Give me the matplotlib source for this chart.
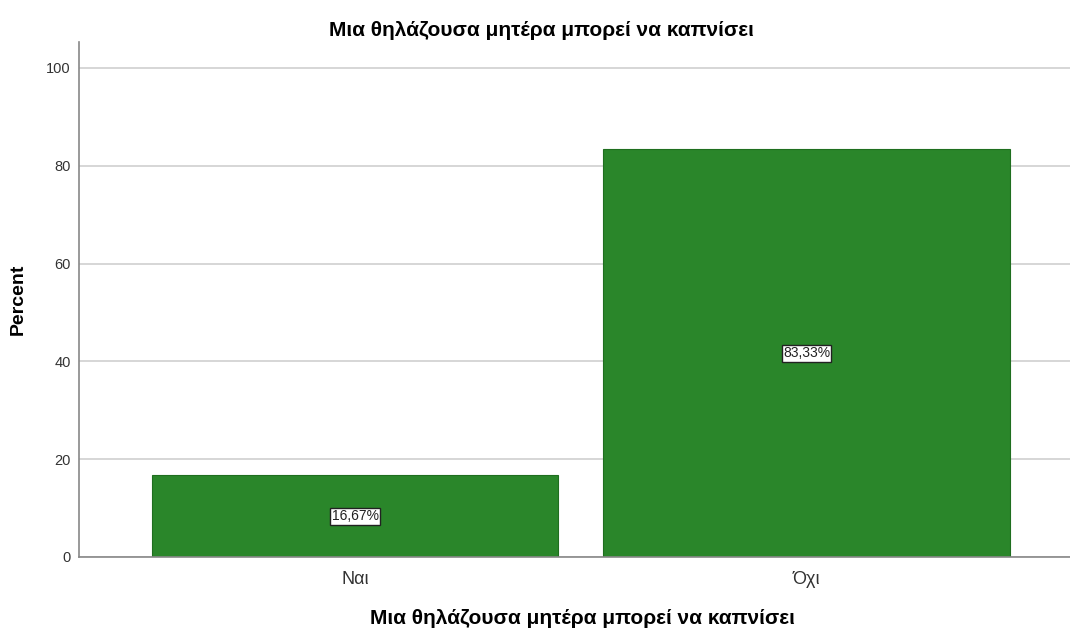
import matplotlib
matplotlib.use("Agg")
import matplotlib.pyplot as plt

plt.rcParams["font.family"] = ["Liberation Sans", "DejaVu Sans"]

categories = ["Ναι", "Όχι"]
percents = [16.67, 83.33]
title = "Μια θηλάζουσα μητέρα μπορεί να καπνίσει"

fig = plt.figure(figsize=(10.70, 6.31), dpi=100)
ax = fig.add_axes([79 / 1070, 1 - 557 / 631, (1070 - 79) / 1070, (557 - 42) / 631])

x = list(range(len(categories)))
ax.bar(x, percents, width=0.9, color="#2a862a", edgecolor="#1f6e1f", linewidth=0.8, zorder=2)

for xi, p in zip(x, percents):
    ax.text(
        xi, p / 2, f"{p:.2f}%".replace(".", ","),
        ha="center", va="center", fontsize=10, color="#222222", zorder=3,
        bbox=dict(boxstyle="square,pad=0.1", fc="white", ec="#222222", lw=1),
    )

ax.set_xlim(-0.612, 1.584)
ax.set_ylim(0, 105.3)
ax.set_yticks([0, 20, 40, 60, 80, 100])
ax.set_xticks(x)
ax.set_xticklabels(categories, fontsize=13, color="#333333")
ax.tick_params(axis="x", length=0, pad=10)
ax.tick_params(axis="y", length=0, labelsize=10.5, labelcolor="#333333", pad=6)
ax.yaxis.grid(True, color="#d0d0d0", linewidth=1.2, zorder=0)
ax.set_axisbelow(True)

for side in ("top", "right"):
    ax.spines[side].set_visible(False)
for side in ("left", "bottom"):
    ax.spines[side].set_color("#888888")
    ax.spines[side].set_linewidth(1.2)

ax.set_ylabel("Percent", fontsize=14, fontweight="bold", va="center")
ax.yaxis.set_label_coords(-61 / 991, 0.5)
ax.set_xlabel(title, fontsize=15, fontweight="bold", va="center")
ax.xaxis.set_label_coords((582 - 79) / 991, -(618 - 557) / 515)
fig.text(541 / 1070, 1 - 30 / 631, title, ha="center", va="center", fontsize=15, fontweight="bold")

fig.savefig("out.png", dpi=100, facecolor="white")
